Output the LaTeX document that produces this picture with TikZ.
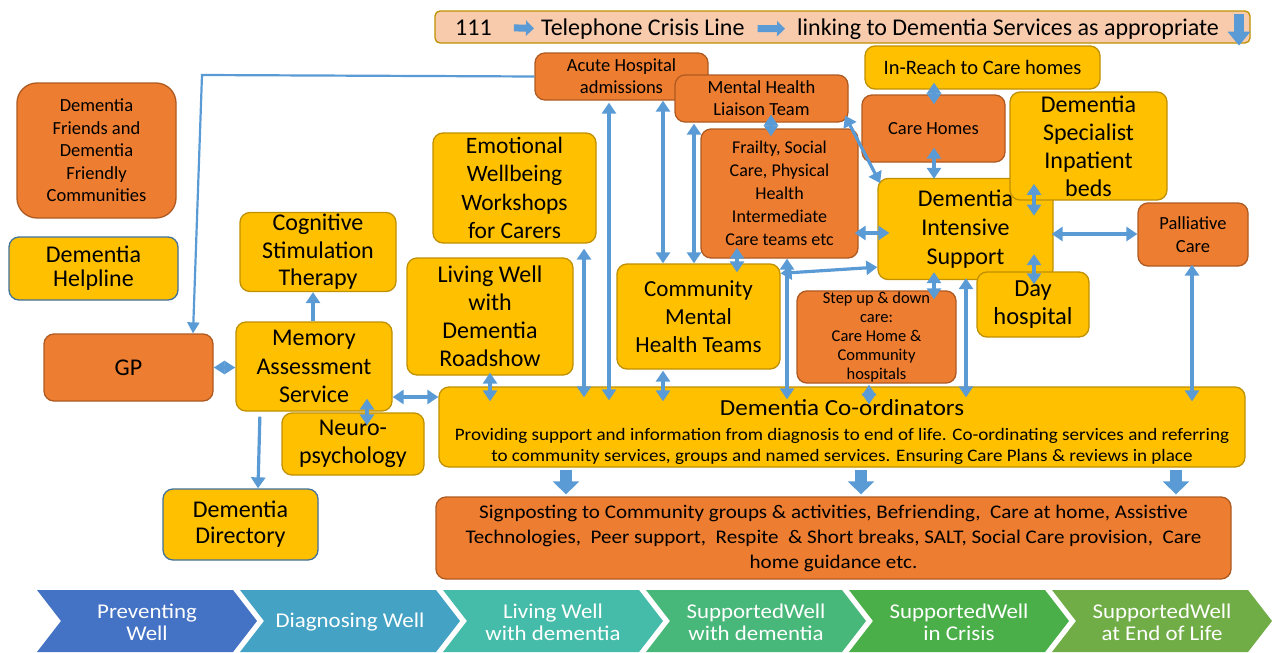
\documentclass[tikz,border=0pt]{standalone}
\usepackage{fontspec}
\setmainfont{Carlito}
\newfontfamily\widefont{Carlito}[FakeStretch=1.09]
\usetikzlibrary{arrows.meta,calc}
\definecolor{yel}{HTML}{FFC000}
\definecolor{yeldk}{HTML}{BF9000}
\definecolor{org}{HTML}{ED7D31}
\definecolor{orgdk}{HTML}{AE5A21}
\definecolor{peach}{HTML}{F8CBAD}
\definecolor{cblue}{HTML}{5B9BD5}
\definecolor{bluedk}{HTML}{41719C}
\definecolor{ch1}{HTML}{4472C4}
\definecolor{ch2}{HTML}{44A2C5}
\definecolor{ch3}{HTML}{45BCA9}
\definecolor{ch4}{HTML}{48B77A}
\definecolor{ch5}{HTML}{4AAF48}
\definecolor{ch6}{HTML}{70AD47}
\tikzset{
  f/.style n args={2}{font=\fontsize{#1}{#2}\selectfont},
  wf/.style n args={2}{font=\widefont\fontsize{#1}{#2}\selectfont},
  box/.style={rounded corners=10pt, line width=1.3pt, align=center, inner sep=1pt, text=black},
  ybox/.style={box, fill=yel, draw=yeldk},
  obox/.style={box, fill=org, draw=orgdk},
  bbox/.style={box, fill=yel, draw=bluedk},
  conn/.style={draw=cblue, line width=3.2pt},
  dbl/.style={conn, {Triangle[length=11pt,width=14pt]}-{Triangle[length=11pt,width=14pt]}},
  sgl/.style={conn, -{Triangle[length=11pt,width=14pt]}},
  ext/.style 2 args={shorten <=#1, shorten >=#2},
  blockarr/.style={draw=cblue, line width=12pt, -{Triangle[length=13pt,width=26pt]}, shorten <=2pt, shorten >=2pt},
  smallarr/.style={draw=cblue, line width=7pt, -{Triangle[length=8pt,width=15pt]}},
  chevtext/.style={wf={21}{22}, text=white, align=center, inner sep=0pt}
}
\begin{document}
\begin{tikzpicture}[x=1pt,y=-1pt]
\useasboundingbox (0,0) rectangle (1282,653);

% ---- 111 bar
\node[ybox, fill=peach, rounded corners=5pt, minimum width=815, minimum height=32] (bar) at (842.5,27) {};
\node[anchor=base west, inner sep=0pt, f={24}{28}] (t111) at (455,35) {111};
\node[anchor=base west, inner sep=0pt, f={24}{28}] (ttel) at (541,35) {Telephone Crisis Line};
\node[anchor=base west, inner sep=0pt, f={24}{28}] (tlink) at (797,35) {linking to Dementia Services as appropriate};
\draw[smallarr, shorten <=22pt, shorten >=7pt] (t111.east) -- (ttel.west);
\draw[smallarr, shorten <=13pt, shorten >=12pt] (ttel.east) -- (tlink.west);
\draw[draw=cblue, line width=10pt, -{Triangle[length=14pt,width=22pt]}, shorten <=4pt, shorten >=-2pt] (bar.north -| 1239,0) -- (bar.south -| 1239,0);

% ---- boxes
\node[obox, rounded corners=20pt, minimum width=159, minimum height=135, f={18.5}{22.5}] (friends) at (96.5,150.5) {Dementia\\Friends and\\Dementia\\Friendly\\Communities};
\node[bbox, minimum width=169, minimum height=63, f={24}{24}] (helpline) at (93.5,268.5) {Dementia\\Helpline};
\node[obox, minimum width=173, minimum height=47, f={18.5}{22}] (acute) at (621.5,76.5) {Acute Hospital\\admissions};
\node[obox, minimum width=173, minimum height=47, f={18.5}{22}] (mhlt) at (761.5,98.5) {Mental Health\\Liaison Team};
\node[ybox, minimum width=235, minimum height=43, f={20.5}{24}] (inreach) at (982.5,67.5) {In-Reach to Care homes};
\node[obox, minimum width=143, minimum height=67, f={18.5}{22}] (carehomes) at (933.5,128.5) {Care Homes};
\node[obox, minimum width=157, minimum height=129, f={18}{23}] (frailty) at (779.5,193.5) {Frailty, Social\\Care, Physical\\Health\\Intermediate\\Care teams etc};
\node[ybox, minimum width=163, minimum height=110, f={23.5}{28.5}] (emotional) at (514.5,188) {Emotional\\Wellbeing\\Workshops\\for Carers};
\node[ybox, minimum width=175, minimum height=101, f={24}{29}] (dis) at (965.5,229) {Dementia\\Intensive\\Support};
\node[ybox, minimum width=157, minimum height=108, f={24}{28}] (dsib) at (1088.5,146) {Dementia\\Specialist\\Inpatient\\beds};
\node[obox, minimum width=110, minimum height=63, f={18.5}{23}] (palliative) at (1193,234.5) {Palliative\\Care};
\node[ybox, minimum width=156, minimum height=79, f={24}{27.5}] (cst) at (318,252) {Cognitive\\Stimulation\\Therapy};
\node[ybox, minimum width=166, minimum height=117, f={24}{28}] (roadshow) at (490,316.5) {Living Well\\with\\Dementia\\Roadshow};
\node[ybox, minimum width=163, minimum height=105, f={23}{28}] (cmht) at (698.5,316.5) {Community\\Mental\\Health Teams};
\node[obox, minimum width=159, minimum height=92, f={16.5}{19}] (stepup) at (876.5,337) {Step up \& down\\care:\\Care Home \&\\Community\\hospitals};
\node[ybox, minimum width=112, minimum height=65, f={24.5}{28}] (day) at (1033,304.5) {Day\\hospital};
\node[obox, minimum width=169, minimum height=67, f={24}{28}] (gp) at (128.5,367.5) {GP};
\node[ybox, minimum width=156, minimum height=89, f={24}{28.5}] (mas) at (314,366.5) {Memory\\Assessment\\Service};
\node[ybox, minimum width=142, minimum height=62, f={24}{28}] (neuro) at (353,444) {Neuro-\\psychology};
\node[ybox, minimum width=806, minimum height=80] (coord) at (842,427) {};
\node[anchor=base, inner sep=0pt, wf={23}{27}] (coordtitle) at (842,415) {Dementia Co-ordinators};
\node[inner sep=0pt, align=center, wf={17.5}{21}] (coordbody) at (842,446) {Providing support and information from diagnosis to end of life. Co-ordinating services and referring\\to community services, groups and named services. Ensuring Care Plans \& reviews in place};
\node[bbox, minimum width=155, minimum height=71, f={24}{26}] (directory) at (240.5,524.5) {Dementia\\Directory};
\node[obox, minimum width=795, minimum height=82, wf={19.3}{25}] (signpost) at (833.5,538) {Signposting to Community groups \& activities, Befriending,~ Care at home, Assistive\\Technologies,~ Peer support,~ Respite~ \& Short breaks, SALT, Social Care provision,~ Care\\home guidance etc.};

% ---- connectors
\draw[conn, line width=2.2pt, -{Triangle[length=11pt,width=12pt]}] (acute.west) -- (202,75) -- (gp.north -| 193,0);
\draw[conn, {Triangle[length=11pt,width=13pt]}-{Triangle[length=11pt,width=13pt]}] (gp.east) -- (gp.east -| mas.west);
\draw[sgl] (mas.north -| 313,0) -- (cst.south -| 313,0);
\draw[sgl, shorten <=5pt] (mas.south -| 260,0) -- (directory.north -| 258,0);
\draw[dbl, ext={-13pt}{-13pt}] (mas.south -| 367,0) -- (neuro.north -| 367,0);
\draw[dbl] (mas.east |- 0,397) -- (coord.west |- 0,397);
\draw[dbl, ext={-3pt}{-15pt}] (roadshow.south -| 490,0) -- (coord.north -| 490,0);
\draw[dbl, ext={5pt}{-11pt}] (emotional.south -| 584,0) -- (coord.north -| 584,0);
\draw[dbl, ext={2pt}{-14pt}] (acute.south -| 609,0) -- (coord.north -| 609,0);
\draw[dbl] (acute.south -| 663,0) -- (cmht.north -| 663,0);
\draw[dbl, ext={1pt}{0pt}] (mhlt.south -| 694,0) -- (cmht.north -| 694,0);
\draw[dbl, ext={-8pt}{-8pt}] (mhlt.south -| 771,0) -- (frailty.north -| 771,0);
\draw[dbl, ext={-8pt}{-6pt}] (mhlt.south east) -- (dis.north west);
\draw[dbl, ext={-4pt}{-12pt}] (frailty.east |- 0,233) -- (dis.west |- 0,233);
\draw[dbl, ext={-11pt}{-9pt}] (frailty.south -| 737,0) -- (cmht.north -| 737,0);
\draw[dbl, ext={0pt}{-13pt}] (frailty.south -| 787,0) -- (coord.north -| 787,0);
\draw[dbl] ([yshift=-10pt]cmht.north east) -- ([yshift=13pt]dis.south west);
\draw[dbl, ext={-7pt}{-10pt}] (inreach.south -| 934,0) -- (carehomes.north -| 934,0);
\draw[dbl, ext={-15pt}{-1pt}] (carehomes.south -| 934,0) -- (dis.north -| 934,0);
\draw[dbl] ($(dis.north -| 1034,0)+(0,6)$) -- ($(dsib.south -| 1034,0)+(0,15)$);
\draw[dbl] ($(dis.south -| 1034,0)+(0,-26)$) -- ($(day.north -| 1034,0)+(0,13)$);
\draw[dbl, ext={-2pt}{0pt}] (dis.east |- 0,234) -- (palliative.west |- 0,234);
\draw[dbl, ext={-8pt}{-9pt}] (dis.south -| 934,0) -- (stepup.north -| 934,0);
\draw[dbl, ext={-2pt}{-11pt}] (dis.south -| 966,0) -- (coord.north -| 966,0);
\draw[dbl, ext={1pt}{-18pt}] (stepup.south -| 869,0) -- (coord.north -| 869,0);
\draw[dbl, ext={-2pt}{-15pt}] (palliative.south -| 1192,0) -- (coord.north -| 1192,0);
\draw[dbl, ext={1pt}{-15pt}] (cmht.south -| 663,0) -- (coord.north -| 663,0);
\foreach \x in {566,861,1176} \draw[blockarr] (coord.south -| \x,0) -- (signpost.north -| \x,0);

% ---- chevrons
\foreach \i/\c/\t in {0/ch1/{Preventing\\Well}, 1/ch2/{Diagnosing Well}, 2/ch3/{Living Well\\with dementia}, 3/ch4/{SupportedWell\\with dementia}, 4/ch5/{SupportedWell\\in Crisis}, 5/ch6/{SupportedWell\\at End of Life}} {
  \pgfmathsetmacro\L{37+203*\i}
  \fill[\c] (\L,590) -- ++(196,0) -- ++(24,31) -- ++(-24,31) -- ++(-196,0) -- ++(24,-31) -- cycle;
  \node[chevtext] (chev\i) at (\L+110,622) {\t};
}
\end{tikzpicture}
\end{document}
